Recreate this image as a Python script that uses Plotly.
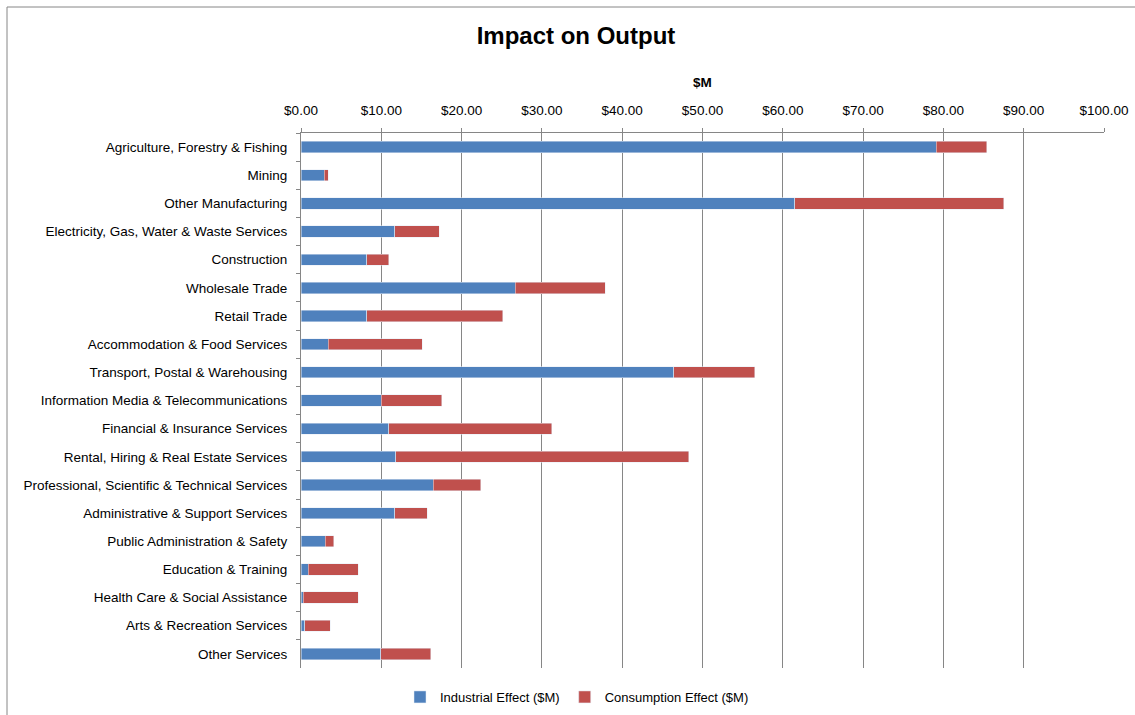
import plotly.graph_objects as go

sectors = [
    "Agriculture, Forestry & Fishing",
    "Mining",
    "Other Manufacturing",
    "Electricity, Gas, Water & Waste Services",
    "Construction",
    "Wholesale Trade",
    "Retail Trade",
    "Accommodation & Food Services",
    "Transport, Postal & Warehousing",
    "Information Media & Telecommunications",
    "Financial & Insurance Services",
    "Rental, Hiring & Real Estate Services",
    "Professional, Scientific & Technical Services",
    "Administrative & Support Services",
    "Public Administration & Safety",
    "Education & Training",
    "Health Care & Social Assistance",
    "Arts & Recreation Services",
    "Other Services",
]

industrial = [79.1, 2.9, 61.5, 11.7, 8.2, 26.7, 8.2, 3.4, 46.4, 10.0,
              10.9, 11.8, 16.5, 11.7, 3.0, 0.9, 0.3, 0.45, 9.95]
consumption = [6.3, 0.5, 26.0, 5.5, 2.7, 11.2, 16.9, 11.7, 10.1, 7.5,
               20.3, 36.5, 5.9, 4.0, 1.1, 6.2, 6.8, 3.2, 6.2]

tick_vals = list(range(0, 101, 10))
tick_text = [f"${v:.2f}" for v in tick_vals]

FONT = "Liberation Sans, Arial, sans-serif"
GRID = "#868686"

fig = go.Figure()
fig.add_bar(
    y=sectors, x=industrial, orientation="h",
    name="Industrial Effect ($M)", marker_color="#4F81BD",
)
fig.add_bar(
    y=sectors, x=consumption, orientation="h",
    name="Consumption Effect ($M)", marker_color="#C0504D",
)

W, H = 1135, 715
L, R, T, B = 301, 31, 133, 47
pw, ph = W - L - R, H - T - B

fig.update_layout(
    width=W, height=H,
    barmode="stack", bargap=0.6,
    plot_bgcolor="white", paper_bgcolor="white",
    margin=dict(l=L, r=R, t=T, b=B, autoexpand=False),
    font=dict(family=FONT, size=13.5, color="#000000"),
    title=dict(
        text="<b>Impact on Output</b>", x=(576 - L) / pw, xref="paper",
        xanchor="center", y=1 - 36 / H, yanchor="middle", font=dict(size=24),
    ),
    legend=dict(
        orientation="h", x=(577 - L) / pw, xanchor="center",
        yref="container", y=1 - 697 / H, yanchor="middle",
        font=dict(size=13), traceorder="normal",
        itemwidth=30,
    ),
    showlegend=True,
)

fig.update_xaxes(
    side="top", range=[0, 100], tickvals=tick_vals, ticktext=tick_text,
    showgrid=True, gridcolor=GRID, gridwidth=1,
    showline=True, linecolor=GRID, mirror=False,
    ticks="outside", ticklen=4, tickcolor=GRID, ticklabelstandoff=8,
    zeroline=False, tickfont=dict(size=13.5), automargin=False,
    title=dict(text="<b>$M</b>", font=dict(size=13.5), standoff=11),
)
fig.update_yaxes(
    autorange="reversed", showline=True, linecolor=GRID,
    ticks="outside", ticklen=4, tickcolor=GRID, tickson="boundaries",
    ticklabelstandoff=10, automargin=False,
    showgrid=False, tickfont=dict(size=13.5),
)

# outer chart border (only left/top edges are inside the picture)
fig.add_shape(
    type="rect", xref="paper", yref="paper",
    x0=(7 - L) / pw, x1=(W + 60 - L) / pw,
    y0=(668 - (H + 60)) / ph, y1=(668 - 7) / ph,
    line=dict(color="#868686", width=1), fillcolor="rgba(0,0,0,0)",
    layer="below",
)

fig.write_html(
    "out.html",
    config={"displayModeBar": False},
    post_script=(
        "document.body.style.margin='0';"
        "document.body.style.overflow='hidden';"
        "document.documentElement.style.overflow='hidden';"
    ),
)
